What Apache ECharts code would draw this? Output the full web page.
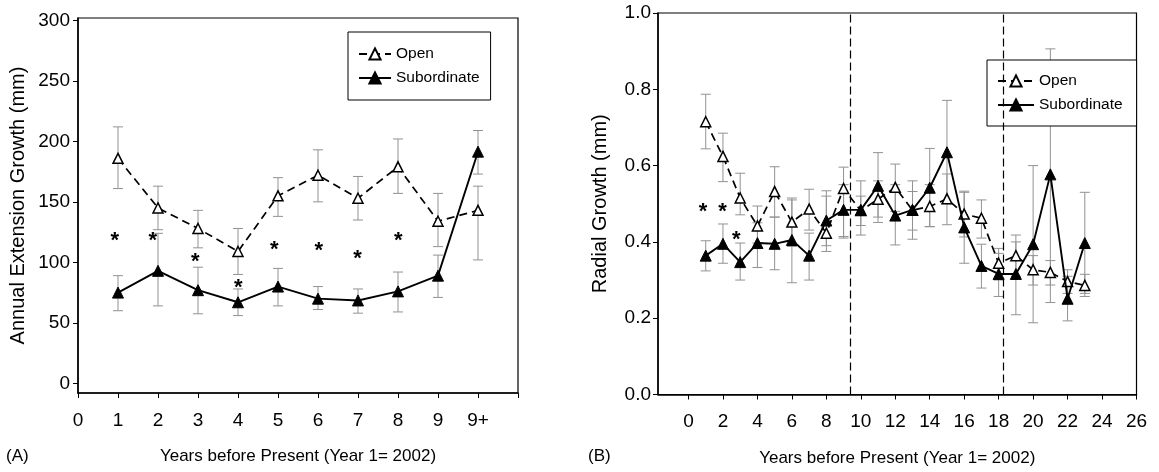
<!DOCTYPE html>
<html><head><meta charset="utf-8">
<script src="https://cdn.jsdelivr.net/npm/echarts@6/dist/echarts.min.js"></script>
<style>html,body{margin:0;padding:0;background:#fff}#c{width:1159px;height:472px}</style>
</head><body><div id="c"></div>
<script>
// ---------- Panel A data ----------
const tickLabelsA = ['0','1','2','3','4','5','6','7','8','9','9+'];
const yearPosA = [1,2,3,4,5,6,7,8,9,10];
const openA   = [186,145,128,109,155,172,153,179,134,143];
const openAHi = [212,163,143,128,170,193,171,202,157,163];
const openALo = [161,127,112,90,138,150,135,157,113,102];
const subA    = [75,93,77,67,80,70,68.5,76,89,191.5];
const subAHi  = [89,124,96,78,95,80,78,92,106,209];
const subALo  = [60,64,57.5,56,64,61,58,59,71,173];
const starsAX = [0.92,1.87,2.93,4.01,4.91,6.02,6.99,8.01];
const starsAY = [123,123,105.5,83.5,115,114,108,123];
const yTicksA = [0,50,100,150,200,250,300];

// ---------- Panel B data ----------
const yearsB  = [1,2,3,4,5,6,7,8,9,10,11,12,13,14,15,16,17,18,19,20,21,22,23];
const openB   = [0.715,0.624,0.515,0.442,0.532,0.452,0.486,0.423,0.540,0.482,0.512,0.543,0.483,0.493,0.513,0.473,0.462,0.344,0.364,0.327,0.320,0.296,0.286];
const openBHi = [0.787,0.685,0.580,0.494,0.597,0.515,0.538,0.534,0.596,0.560,0.560,0.604,0.532,0.550,0.578,0.533,0.510,0.383,0.418,0.364,0.351,0.327,0.315];
const openBLo = [0.644,0.558,0.471,0.397,0.465,0.388,0.431,0.375,0.414,0.418,0.465,0.480,0.431,0.440,0.445,0.413,0.410,0.300,0.310,0.287,0.287,0.265,0.257];
const subB    = [0.364,0.395,0.347,0.397,0.395,0.405,0.364,0.456,0.484,0.484,0.547,0.469,0.484,0.542,0.635,0.438,0.337,0.316,0.316,0.394,0.577,0.251,0.397];
const subBHi  = [0.403,0.447,0.397,0.450,0.465,0.510,0.423,0.520,0.550,0.520,0.634,0.550,0.560,0.645,0.771,0.530,0.394,0.370,0.400,0.600,0.906,0.310,0.530];
const subBLo  = [0.324,0.344,0.300,0.333,0.327,0.293,0.300,0.390,0.410,0.443,0.451,0.392,0.407,0.440,0.500,0.344,0.279,0.257,0.209,0.188,0.241,0.193,0.265];
const starsBX = [0.85,1.98,2.77];
const starsBY = [0.494,0.494,0.421];
const dividerYears = [9.4, 18.25];
const xTicksB = [0,2,4,6,8,10,12,14,16,18,20,22,24,26];
const yTicksB = [0,0.2,0.4,0.6,0.8,1.0];

const FONT = 'Liberation Sans, Arial, sans-serif';
const zip = (a,b) => a.map((v,i)=>[v,b[i]]);
const errData = (xs, lo, hi) => xs.map((x,i)=>[x, lo[i], hi[i]]);

function errSeries(idx, data){
  return {
    type:'custom', xAxisIndex:idx, yAxisIndex:idx, data, silent:true, z:1,
    encode:{x:0, y:[1,2]},
    renderItem(params, api){
      const x = api.value(0);
      const p1 = api.coord([x, api.value(1)]);
      const p2 = api.coord([x, api.value(2)]);
      const w = 5, st = {stroke:'#929292', lineWidth:1};
      return {type:'group', children:[
        {type:'line', shape:{x1:p1[0],y1:p1[1],x2:p2[0],y2:p2[1]}, style:st},
        {type:'line', shape:{x1:p1[0]-w,y1:p1[1],x2:p1[0]+w,y2:p1[1]}, style:st},
        {type:'line', shape:{x1:p2[0]-w,y1:p2[1],x2:p2[0]+w,y2:p2[1]}, style:st}
      ]};
    }
  };
}
function starSeries(idx, xs, ys){
  return {
    type:'custom', xAxisIndex:idx, yAxisIndex:idx, data: zip(xs, ys), silent:true, z:5,
    renderItem(params, api){
      const p = api.coord([api.value(0), api.value(1)]);
      return {type:'text', x:p[0], y:p[1]+6, style:{text:'*', font:'bold 22px '+FONT, fill:'#000', align:'center', verticalAlign:'middle'}};
    }
  };
}
function openSeries(idx, xs, ys){
  return {name:'Open', type:'line', xAxisIndex:idx, yAxisIndex:idx, data:zip(xs,ys), color:'#000',
    symbol:'triangle', symbolSize:10, z:3,
    lineStyle:{color:'#000', width:1.7, type:[8,5]},
    itemStyle:{color:'#fff', borderColor:'#000', borderWidth:1.5}};
}
function subSeries(idx, xs, ys){
  return {name:'Subordinate', type:'line', xAxisIndex:idx, yAxisIndex:idx, data:zip(xs,ys), color:'#000',
    symbol:'triangle', symbolSize:11, z:4,
    lineStyle:{color:'#000', width:1.9, type:'solid'},
    itemStyle:{color:'#000', borderColor:'#000', borderWidth:1}};
}
const axisLine = {show:true, onZero:false, lineStyle:{color:'#000', width:1.5}};
const labelStyle = {color:'#000', fontSize:19, fontFamily:FONT};
const nameStyle = {color:'#000', fontSize:17, fontFamily:FONT};
const yNameStyle = {color:'#000', fontSize:20, fontFamily:FONT};

const chart = echarts.init(document.getElementById('c'));
const bSeriesOpen = openSeries(1, yearsB, openB);
bSeriesOpen.markLine = {symbol:'none', silent:true, label:{show:false},
  lineStyle:{color:'#000', type:[8,4], width:1.2},
  data: dividerYears.map(v=>({xAxis:v}))};

chart.setOption({
  animation:false,
  backgroundColor:'#fff',
  textStyle:{fontFamily:FONT},
  grid:[
    {left:78, top:18, width:440, height:375, show:true, borderColor:'#000', borderWidth:1.2, backgroundColor:'transparent'},
    {left:658, top:13, width:478.5, height:381.5, show:true, borderColor:'#000', borderWidth:1.2, backgroundColor:'transparent'}
  ],
  legend:[
    {data:['Open','Subordinate'], orient:'vertical', left:348, top:32, itemWidth:32, itemHeight:14, itemGap:8, itemTextGap:8,
     padding:[14,11,14,10], borderColor:'#000', borderWidth:1, backgroundColor:'#fff', selectedMode:false,
     textStyle:{color:'#000', fontSize:15.5, fontFamily:FONT}},
    {data:['Open','Subordinate'], orient:'vertical', left:987, top:60, itemWidth:36, itemHeight:14, itemGap:8, itemTextGap:10,
     padding:[13,14,13,10], borderColor:'#000', borderWidth:1, backgroundColor:'#fff', selectedMode:false,
     textStyle:{color:'#000', fontSize:15.5, fontFamily:FONT}}
  ],
  xAxis:[
    {type:'value', gridIndex:0, min:0, max:11, axisLine,
     axisTick:{show:true, length:5, customValues:[0,1,2,3,4,5,6,7,8,9,10,11], lineStyle:{color:'#000'}},
     axisLabel:{...labelStyle, margin:18, customValues:[0,1,2,3,4,5,6,7,8,9,10], formatter:v=>tickLabelsA[Math.round(v)]},
     splitLine:{show:false},
     name:'Years before Present (Year 1= 2002)', nameLocation:'middle', nameGap:55, nameTextStyle:nameStyle},
    {type:'value', gridIndex:1, min:-1.77, max:26, axisLine,
     axisTick:{show:true, length:5, customValues:xTicksB, lineStyle:{color:'#000'}},
     axisLabel:{...labelStyle, margin:18, customValues:xTicksB},
     splitLine:{show:false},
     name:'Years before Present (Year 1= 2002)', nameLocation:'middle', nameGap:55, nameTextStyle:nameStyle}
  ],
  yAxis:[
    {type:'value', gridIndex:0, min:-8, max:302, axisLine,
     axisTick:{show:true, length:5, customValues:yTicksA, lineStyle:{color:'#000'}},
     axisLabel:{...labelStyle, margin:8, customValues:yTicksA},
     splitLine:{show:false},
     name:'Annual Extension Growth (mm)', nameLocation:'middle', nameGap:50, nameTextStyle:yNameStyle},
    {type:'value', gridIndex:1, min:0, max:1, axisLine,
     axisTick:{show:true, length:5, customValues:yTicksB, lineStyle:{color:'#000'}},
     axisLabel:{...labelStyle, margin:7, customValues:yTicksB, formatter:v=>v.toFixed(1)},
     splitLine:{show:false},
     name:'Radial Growth (mm)', nameLocation:'middle', nameGap:48, nameTextStyle:yNameStyle}
  ],
  graphic:[
    {type:'text', left:6, top:448, style:{text:'(A)', font:'17px '+FONT, fill:'#000'}},
    {type:'text', left:588, top:448, style:{text:'(B)', font:'17px '+FONT, fill:'#000'}}
  ],
  series:[
    errSeries(0, errData(yearPosA, openALo, openAHi)),
    errSeries(0, errData(yearPosA, subALo, subAHi)),
    openSeries(0, yearPosA, openA),
    subSeries(0, yearPosA, subA),
    starSeries(0, starsAX, starsAY),
    errSeries(1, errData(yearsB, openBLo, openBHi)),
    errSeries(1, errData(yearsB, subBLo, subBHi)),
    bSeriesOpen,
    subSeries(1, yearsB, subB),
    starSeries(1, starsBX, starsBY)
  ]
});
</script></body></html>
